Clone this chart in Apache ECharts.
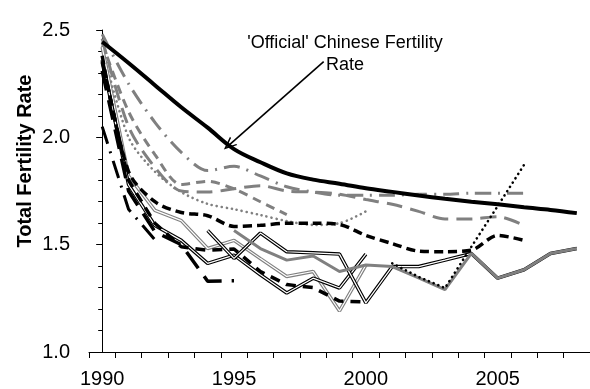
<!DOCTYPE html>
<html>
<head>
<meta charset="utf-8">
<script src="https://cdn.jsdelivr.net/npm/echarts@6/dist/echarts.min.js"></script>
<style>
html,body{margin:0;padding:0;background:#fff;}
#chart{width:590px;height:389px;}
</style>
</head>
<body>
<div id="chart"></div>
<script>
// ---- data ----
const years = ['1990','1991','1992','1993','1994','1995','1996','1997','1998','1999','2000','2001','2002','2003','2004','2005','2006','2007','2008'];
const yTicks = [1.0, 1.5, 2.0, 2.5];

const official     = [2.445,2.346,2.243,2.14,2.045,1.945,1.884,1.832,1.803,1.784,1.763,1.746,1.729,1.714,1.70,1.688,1.674,1.662,1.647];
const grayDashDot  = [2.48,2.25,2.07,1.93,1.845,1.865,1.82,1.77,1.745,1.73,1.73,1.73,1.735,1.735,1.74,1.74,1.74,null,null];
const grayLongDash = [2.46,2.05,1.86,1.75,1.745,1.76,1.775,1.75,1.745,1.735,1.71,1.688,1.655,1.62,1.62,1.63,1.59,null,null];
const grayDash     = [2.44,2.12,1.92,1.78,1.795,1.76,1.70,1.64,null,null,null,null,null,null,null,null,null,null,null];
const grayDotted   = [2.42,2.0,1.84,1.745,1.69,1.665,1.638,1.61,1.592,1.60,1.655,null,null,null,null,null,null,null,null];
const blackDashed  = [2.38,1.84,1.70,1.65,1.635,1.585,1.59,1.60,1.60,1.594,1.543,1.505,1.47,1.467,1.474,1.543,1.52,null,null];
const blackDotted  = [null,null,null,null,null,null,null,null,null,null,null,1.413,1.35,1.298,1.49,1.68,1.872,null,null];
const blackDashDot = [2.05,1.665,1.523,null,null,null,null,null,null,null,null,null,null,null,null,null,null,null,null];
const blackLongDash= [2.31,1.75,1.56,1.50,1.33,1.332,null,null,null,null,null,null,null,null,null,null,null,null,null];
const blackMedDash = [2.35,1.80,1.60,1.49,1.474,1.48,1.375,1.314,1.30,1.237,1.233,null,null,null,null,null,null,null,null];
const blackDoubleA = [2.36,1.78,1.589,1.52,1.413,1.451,1.36,1.275,1.344,1.298,1.456,null,null,null,null,null,null,null,null];
const grayDouble   = [2.42,1.82,1.66,1.612,1.482,1.52,1.435,1.352,1.375,1.191,1.405,null,null,null,null,null,null,null,null];
const blackDoubleB = [null,null,null,null,1.566,1.436,1.554,1.467,1.462,1.456,1.229,1.398,1.398,1.428,1.459,1.344,1.383,1.459,1.482];
const graySolid    = [null,null,null,null,null,1.566,1.482,1.428,1.447,1.375,1.405,1.398,1.345,1.291,1.459,1.344,1.383,1.459,1.482];

const annotationText = "'Official' Chinese Fertility\nRate";
const axisTitle = 'Total Fertility Rate';
const arrowFrom = [8.40, 2.353];
const arrowTo   = [4.80, 1.963];

// ---- chart ----
const FONT = '"Liberation Sans", Arial, sans-serif';
const GRAY = '#808080';
const chart = echarts.init(document.getElementById('chart'), null, {renderer:'canvas'});

function ln(name, data, color, width, type, opts) {
  return Object.assign({
    name, type:'line', data, symbol:'none', showSymbol:false, silent:true,
    lineStyle:{color, width, type: type || 'solid', cap: 'butt'},
    xAxisIndex:0, yAxisIndex:0
  }, opts || {});
}

const series = [
  ln('grayDotted', grayDotted, GRAY, 2.6, [0.1,5], {smooth:0.3, lineStyle:{color:GRAY,width:2.6,type:[0.1,5],cap:'round'}}),
  ln('grayDash', grayDash, GRAY, 3, [9,6], {smooth:0.3}),
  ln('grayLongDash', grayLongDash, GRAY, 3, [16,8], {smooth:0.3}),
  ln('grayDashDot', grayDashDot, GRAY, 3, [16,7,2,7], {smooth:0.3}),
  ln('grayDoubleOuter', grayDouble, GRAY, 3.5),
  ln('grayDoubleInner', grayDouble, '#ffffff', 1.2),
  ln('blackDoubleAOuter', blackDoubleA, '#000', 3.5),
  ln('blackDoubleAInner', blackDoubleA, '#ffffff', 1.2),
  ln('blackDoubleBOuter', blackDoubleB, '#000', 3.5),
  ln('blackDoubleBInner', blackDoubleB, '#ffffff', 1.2),
  ln('graySolid', graySolid, GRAY, 3),
  ln('blackDashDot', blackDashDot, '#000', 3, [18,8,2,8]),
  ln('blackLongDash', blackLongDash, '#000', 3.5, [20,10]),
  ln('blackMedDash', blackMedDash, '#000', 3.5, [10,7]),
  ln('blackDashed', blackDashed, '#000', 3.5, [9,5], {smooth:0.3}),
  ln('blackDotted', blackDotted, '#000', 2.6, [0.1,5], {lineStyle:{color:'#000',width:2.6,type:[0.1,5],cap:'round'}}),
  ln('official', official, '#000', 4, 'solid', {smooth:0.35}),
  {
    name:'arrow', type:'line', data:[], xAxisIndex:1, yAxisIndex:0, silent:true, symbol:'none',
    markLine:{
      silent:true, animation:false,
      symbol:['none','path://M0,10 L5,0 L10,10 L8.6,10 L5,2.8 L1.4,10 Z'],
      symbolSize:[11,13],
      label:{show:false},
      lineStyle:{color:'#000', width:1.6, type:'solid'},
      data:[[{coord:arrowFrom},{coord:arrowTo}]]
    }
  }
];

chart.setOption({
  animation:false,
  backgroundColor:'#fff',
  grid:{left:89, top:30, bottom:32, right:-10, containLabel:false},
  xAxis:[{
    type:'category', data:years, boundaryGap:true,
    axisLine:{show:true, lineStyle:{color:'#000', width:1}},
    axisTick:{show:true, interval:0, length:6, inside:false, alignWithLabel:false, lineStyle:{color:'#000'}},
    axisLabel:{interval:4, margin:17, fontSize:20, fontFamily:FONT, color:'#000'},
    splitLine:{show:false}
  },{
    type:'value', min:-0.5, max:18.5, show:false
  }],
  yAxis:[{
    type:'value', min:yTicks[0], max:yTicks[yTicks.length-1], interval:0.5,
    axisLine:{show:true, lineStyle:{color:'#000', width:1}},
    axisTick:{show:true, length:6, inside:false, lineStyle:{color:'#000'}},
    minorTick:{show:true, splitNumber:5, length:4, lineStyle:{color:'#000'}},
    axisLabel:{margin:19, fontSize:20, fontFamily:FONT, color:'#000', formatter:v=>v.toFixed(1)},
    splitLine:{show:false}
  }],
  graphic:[
    {type:'text', x:25, y:161, rotation:Math.PI/2, silent:true,
     style:{text:axisTitle, textAlign:'center', textVerticalAlign:'middle', fill:'#000',
            font:'bold 20px "Liberation Sans", Arial, sans-serif'}},
    {type:'text', x:345, y:54, silent:true,
     style:{text:annotationText, textAlign:'center', textVerticalAlign:'middle', fill:'#000',
            font:'18px "Liberation Sans", Arial, sans-serif', lineHeight:22}}
  ],
  series
});
</script>
</body>
</html>
